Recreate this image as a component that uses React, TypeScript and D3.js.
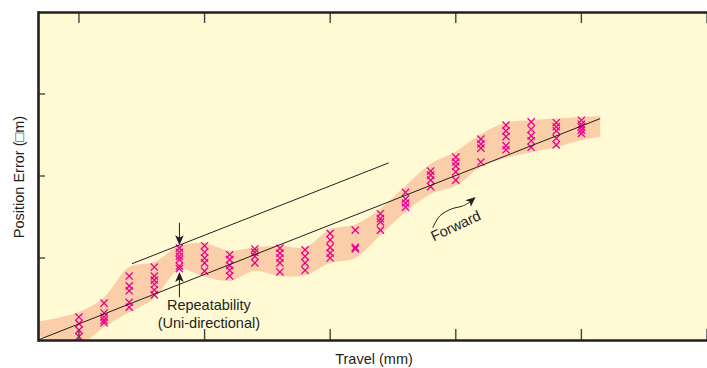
import React from "react";
import * as d3 from "d3";

const W = 707;
const H = 368;

// tick positions (x in station units, y in error units)
const xTicks = [0, 5, 10, 15, 20, 25];
const yTicks = [1, 2, 3];

// measured positions of each repeated run per station (station index = column)
const stations = [0, 1, 2, 3, 4, 5, 6, 7, 8, 9, 10, 11, 12, 13, 14, 15, 16, 17, 18, 19, 20];
const samples: number[][] = [
  [0.28, 0.2, 0.12, 0.04],
  [0.45, 0.33, 0.28, 0.24, 0.21],
  [0.78, 0.66, 0.6, 0.46, 0.4],
  [0.89, 0.78, 0.73, 0.68, 0.61, 0.55],
  [1.12, 1.07, 1.02, 0.98, 0.9, 0.87],
  [1.15, 1.07, 1.0, 0.94, 0.84],
  [1.04, 0.98, 0.91, 0.85, 0.78],
  [1.11, 1.07, 1.02, 0.94],
  [1.12, 1.06, 1.0, 0.94, 0.83],
  [1.1, 1.02, 0.94, 0.85],
  [1.3, 1.22, 1.13, 1.06, 1.0],
  [1.34, 1.13, 1.11],
  [1.54, 1.48, 1.44, 1.34],
  [1.8, 1.72, 1.67, 1.62],
  [2.06, 2.01, 1.95, 1.87],
  [2.23, 2.17, 2.12, 2.05, 1.95],
  [2.45, 2.39, 2.34, 2.17],
  [2.62, 2.55, 2.48, 2.37, 2.32],
  [2.66, 2.57, 2.49, 2.43, 2.35],
  [2.65, 2.6, 2.55, 2.46, 2.38],
  [2.68, 2.63, 2.6, 2.56, 2.52],
];

// shaded envelope
const bandX = [-1.63, 0, 1, 2, 3, 4, 5, 6, 7, 8, 9, 10, 11, 12, 13, 14, 15, 16, 17, 18, 19, 20, 20.75];
const bandUpper = [0.22, 0.34, 0.52, 0.89, 0.95, 1.15, 1.18, 1.09, 1.13, 1.15, 1.13, 1.35, 1.41, 1.6, 1.88, 2.15, 2.3, 2.51, 2.65, 2.68, 2.7, 2.72, 2.73];
const bandLower = [0.05, -0.05, 0.16, 0.34, 0.51, 0.86, 0.77, 0.72, 0.84, 0.78, 0.79, 0.94, 1.0, 1.28, 1.56, 1.78, 1.88, 2.11, 2.22, 2.29, 2.35, 2.44, 2.48];

// reference lines
const fitLine: [number, number][] = [[-1.63, 0.0], [20.75, 2.7]];
const upperLine: [number, number][] = [[2.11, 0.93], [12.33, 2.16]];

// annotation anchors (data units)
const downArrow: [number, number][] = [[4, 1.43], [4, 1.157]];
const upArrow: [number, number][] = [[4, 0.52], [4, 0.83]];
const forwardCurve: [number, number][] = [
  [14.08, 1.366],
  [14.36, 1.512],
  [14.83, 1.598],
  [15.27, 1.634],
  [15.51, 1.671],
];
const forwardTip: [number, number] = [15.79, 1.744];
const forwardLabelPos: [number, number] = [14.12, 1.2];
const repeatLabelPos: [number, number] = [5.17, 0.365];

const x = d3.scaleLinear().domain([-1.63, 25]).range([38, 707]);
const y = d3.scaleLinear().domain([0, 4]).range([340, 12]);

const INK = "#231f20";
const MAGENTA = "#ec008c";

function arrowHead(tx: number, ty: number, angle: number, key: string) {
  const deg = (angle * 180) / Math.PI;
  return (
    <path
      key={key}
      d="M0,0 L-10,-4.3 L-7.5,0 L-10,4.3 Z"
      fill={INK}
      transform={`translate(${tx},${ty}) rotate(${deg})`}
    />
  );
}

export default function App() {
  const area = d3
    .area<number>()
    .x((_, i) => x(bandX[i]))
    .y0((_, i) => y(bandLower[i]))
    .y1((_, i) => y(bandUpper[i]))
    .curve(d3.curveCatmullRom.alpha(0.5));

  const line = d3
    .line<[number, number]>()
    .x((d) => x(d[0]))
    .y((d) => y(d[1]));

  const curved = d3
    .line<[number, number]>()
    .x((d) => x(d[0]))
    .y((d) => y(d[1]))
    .curve(d3.curveCatmullRom.alpha(0.5));

  const s = 3.6;
  const crosses: React.ReactNode[] = [];
  stations.forEach((st, i) => {
    samples[i].forEach((v, j) => {
      const cx = x(st);
      const cy = y(v);
      crosses.push(
        <path
          key={`c${i}-${j}`}
          d={`M${cx - s},${cy - s}L${cx + s},${cy + s}M${cx - s},${cy + s}L${cx + s},${cy - s}`}
          stroke={MAGENTA}
          strokeWidth={1.3}
          fill="none"
        />
      );
    });
  });

  const dA0 = [x(downArrow[0][0]), y(downArrow[0][1])];
  const dA1 = [x(downArrow[1][0]), y(downArrow[1][1])];
  const uA0 = [x(upArrow[0][0]), y(upArrow[0][1])];
  const uA1 = [x(upArrow[1][0]), y(upArrow[1][1])];
  const last = forwardCurve[forwardCurve.length - 1];
  const fx0 = x(last[0]);
  const fy0 = y(last[1]);
  const ftx = x(forwardTip[0]);
  const fty = y(forwardTip[1]);
  const fAng = Math.atan2(fty - fy0, ftx - fx0);

  const font = "'Liberation Sans', Arial, Helvetica, sans-serif";
  const fs = 14.5;

  return (
    <svg
      width={W}
      height={H}
      style={{ position: "absolute", left: 0, top: 0, background: "#fff" }}
      fontFamily={font}
    >
      <defs>
        <clipPath id="plot">
          <rect x={38} y={12} width={W - 38} height={328} />
        </clipPath>
      </defs>
      <rect x={38} y={12} width={W - 38} height={328} fill="#fff9d4" />
      <g clipPath="url(#plot)">
        <path d={area(bandX) || ""} fill="#f9cea8" />
        {crosses}
        <path d={line(fitLine) || ""} stroke={INK} strokeWidth={1} fill="none" />
        <path d={line(upperLine) || ""} stroke={INK} strokeWidth={1} fill="none" />
        <line x1={dA0[0]} y1={dA0[1]} x2={dA1[0]} y2={dA1[1] - 6} stroke={INK} strokeWidth={1} />
        {arrowHead(dA1[0], dA1[1], Math.PI / 2, "ad")}
        <line x1={uA0[0]} y1={uA0[1]} x2={uA1[0]} y2={uA1[1] + 6} stroke={INK} strokeWidth={1} />
        {arrowHead(uA1[0], uA1[1], -Math.PI / 2, "au")}
        <path d={curved(forwardCurve) || ""} stroke={INK} strokeWidth={1} fill="none" />
        <line x1={fx0} y1={fy0} x2={ftx - 5 * Math.cos(fAng)} y2={fty - 5 * Math.sin(fAng)} stroke={INK} strokeWidth={1} />
        {arrowHead(ftx, fty, fAng, "af")}
      </g>
      {xTicks.map((t) => (
        <g key={`xt${t}`}>
          <line x1={x(t)} x2={x(t)} y1={12} y2={23} stroke="#444" strokeWidth={1.4} />
          <line x1={x(t)} x2={x(t)} y1={340} y2={329} stroke="#444" strokeWidth={1.4} />
        </g>
      ))}
      {yTicks.map((t) => (
        <line key={`yt${t}`} x1={38} x2={45} y1={y(t)} y2={y(t)} stroke="#444" strokeWidth={1.4} />
      ))}
      <line x1={38} x2={W} y1={12.5} y2={12.5} stroke={INK} strokeWidth={2.6} />
      <line x1={38} x2={W} y1={340.5} y2={340.5} stroke={INK} strokeWidth={2.6} />
      <line x1={38.5} x2={38.5} y1={11.2} y2={341.8} stroke={INK} strokeWidth={2.6} />
      <text x={x(repeatLabelPos[0])} y={y(repeatLabelPos[1])} fontSize={fs} fill={INK} textAnchor="middle">
        Repeatability
      </text>
      <text x={x(repeatLabelPos[0])} y={y(repeatLabelPos[1]) + 18} fontSize={fs} fill={INK} textAnchor="middle">
        (Uni-directional)
      </text>
      <text
        transform={`translate(${x(forwardLabelPos[0])},${y(forwardLabelPos[1])}) rotate(-25)`}
        fontSize={fs}
        fill={INK}
      >
        Forward
      </text>
      <text x={374} y={364} fontSize={fs} fill={INK} textAnchor="middle">
        Travel (mm)
      </text>
      <text
        transform={`translate(23.5,177) rotate(-90)`}
        fontSize={fs}
        fill={INK}
        textAnchor="middle"
      >
        Position Error (□m)
      </text>
    </svg>
  );
}
